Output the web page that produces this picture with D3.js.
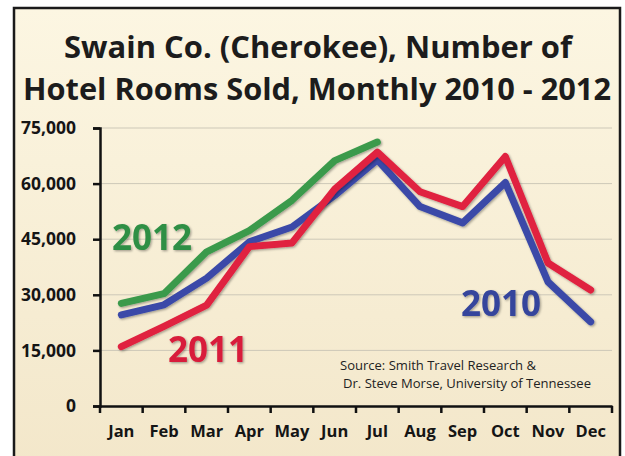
<!DOCTYPE html>
<html><head><meta charset="utf-8">
<script src="https://cdn.jsdelivr.net/npm/d3@7"></script>
<style>html,body{margin:0;padding:0;background:#fff;}svg{display:block;}</style>
</head><body>
<svg id="chart" width="625" height="456"></svg>
<script>
const months = ["Jan","Feb","Mar","Apr","May","Jun","Jul","Aug","Sep","Oct","Nov","Dec"];
const values2010 = [24600, 27300, 34500, 44300, 48300, 56800, 66400, 53800, 49400, 60300, 33500, 22700];
const values2011 = [16000, 21500, 27200, 43000, 44000, 58500, 68500, 57800, 53800, 67300, 38600, 31300];
const values2012 = [27700, 30300, 41600, 47300, 55500, 66200, 71200, null, null, null, null, null];
const yTicks = [0, 15000, 30000, 45000, 60000, 75000];
const titleLines = ["Swain Co. (Cherokee), Number of", "Hotel Rooms Sold, Monthly 2010 - 2012"];
const sourceLines = ["Source: Smith Travel Research &", "Dr. Steve Morse, University of Tennessee"];

const svg = d3.select("#chart");
const defs = svg.append("defs");
const grad = defs.append("linearGradient").attr("id","bg").attr("x1",0).attr("y1",0).attr("x2",0).attr("y2",1);
grad.append("stop").attr("offset","0%").attr("stop-color","#fcf6e2");
grad.append("stop").attr("offset","100%").attr("stop-color","#f3e7ca");
const sh = defs.append("filter").attr("id","shadow").attr("x","-10%").attr("y","-10%").attr("width","130%").attr("height","130%");
sh.append("feDropShadow").attr("dx",1.2).attr("dy",1.2).attr("stdDeviation",0.8).attr("flood-color","#000").attr("flood-opacity",0.35);

svg.append("rect").attr("x",14).attr("y",8).attr("width",606).attr("height",460)
  .attr("fill","url(#bg)").attr("stroke","#1a1a1a").attr("stroke-width",2.5);

const font = "'Open Sans', 'DejaVu Sans', sans-serif";
svg.append("text").attr("x",318).attr("y",58).attr("text-anchor","middle")
  .attr("font-family",font).attr("font-weight",700).attr("font-size",31)
  .attr("fill","#1c1c1c").attr("textLength",508).attr("lengthAdjust","spacingAndGlyphs").text(titleLines[0]);
svg.append("text").attr("x",317).attr("y",100).attr("text-anchor","middle")
  .attr("font-family",font).attr("font-weight",700).attr("font-size",31)
  .attr("fill","#1c1c1c").attr("textLength",588).attr("lengthAdjust","spacingAndGlyphs").text(titleLines[1]);

const x = d3.scaleBand().domain(months).range([100, 612]);
const y = d3.scaleLinear().domain([0, 75000]).range([406, 128]);

// gridlines
svg.append("g").selectAll("line").data(yTicks.filter(d => d > 0)).join("line")
  .attr("x1",100).attr("x2",612).attr("y1",d=>y(d)).attr("y2",d=>y(d))
  .attr("stroke","#cdc8b8").attr("stroke-width",1);

// y axis
const yAxis = svg.append("g").attr("transform","translate(100,0)")
  .call(d3.axisLeft(y).tickValues(yTicks).tickFormat(d3.format(",")).tickSize(7).tickPadding(17));
yAxis.select(".domain").attr("stroke","#111").attr("stroke-width",2.5);
yAxis.selectAll(".tick line").attr("stroke","#111").attr("stroke-width",2.5);
yAxis.selectAll(".tick text").attr("font-family",font).attr("font-weight",700).attr("font-size",17.5).attr("fill","#151515");

// x axis
const xAxis = svg.append("g").attr("transform","translate(0,406)")
  .call(d3.axisBottom(x).tickSize(0).tickPadding(19));
xAxis.select(".domain").attr("stroke","#111").attr("stroke-width",2.5);
xAxis.selectAll(".tick text").attr("font-family",font).attr("font-weight",700).attr("font-size",16.5).attr("fill","#151515");
svg.append("g").selectAll("line").data(months.concat(["_end"])).join("line")
  .attr("x1",(d,i)=> i < months.length ? x(d) : x.range()[1])
  .attr("x2",(d,i)=> i < months.length ? x(d) : x.range()[1])
  .attr("y1",406).attr("y2",413).attr("stroke","#111").attr("stroke-width",2.5);

const line = d3.line().defined(d => d != null)
  .x((d,i) => x(months[i]) + x.bandwidth()/2).y(d => y(d));
const series = [
  {vals: values2010, color: "#3a4aa8"},
  {vals: values2011, color: "#e0203f"},
  {vals: values2012, color: "#3a9a4c"}
];
svg.append("g").selectAll("path").data(series).join("path")
  .attr("d", s => line(s.vals)).attr("fill","none").attr("stroke", s => s.color)
  .attr("stroke-width",7).attr("stroke-linejoin","round").attr("stroke-linecap","round")
  .attr("filter","url(#shadow)");

const labels = [
  {t:"2012", x:152, y:250, c:"#2f8f45"},
  {t:"2011", x:208, y:362, c:"#d81d3a"},
  {t:"2010", x:501, y:316, c:"#34449c"}
];
svg.append("g").selectAll("text").data(labels).join("text")
  .attr("x",d=>d.x).attr("y",d=>d.y).attr("text-anchor","middle")
  .attr("font-family",font).attr("font-weight",700).attr("font-size",35)
  .attr("fill",d=>d.c).attr("filter","url(#shadow)").text(d=>d.t);

svg.append("text").attr("x",340).attr("y",370).attr("font-family",font).attr("font-size",12)
  .attr("fill","#222").attr("textLength",196).attr("lengthAdjust","spacingAndGlyphs").text(sourceLines[0]);
svg.append("text").attr("x",343).attr("y",388).attr("font-family",font).attr("font-size",12)
  .attr("fill","#222").attr("textLength",248).attr("lengthAdjust","spacingAndGlyphs").text(sourceLines[1]);
</script>
</body></html>
